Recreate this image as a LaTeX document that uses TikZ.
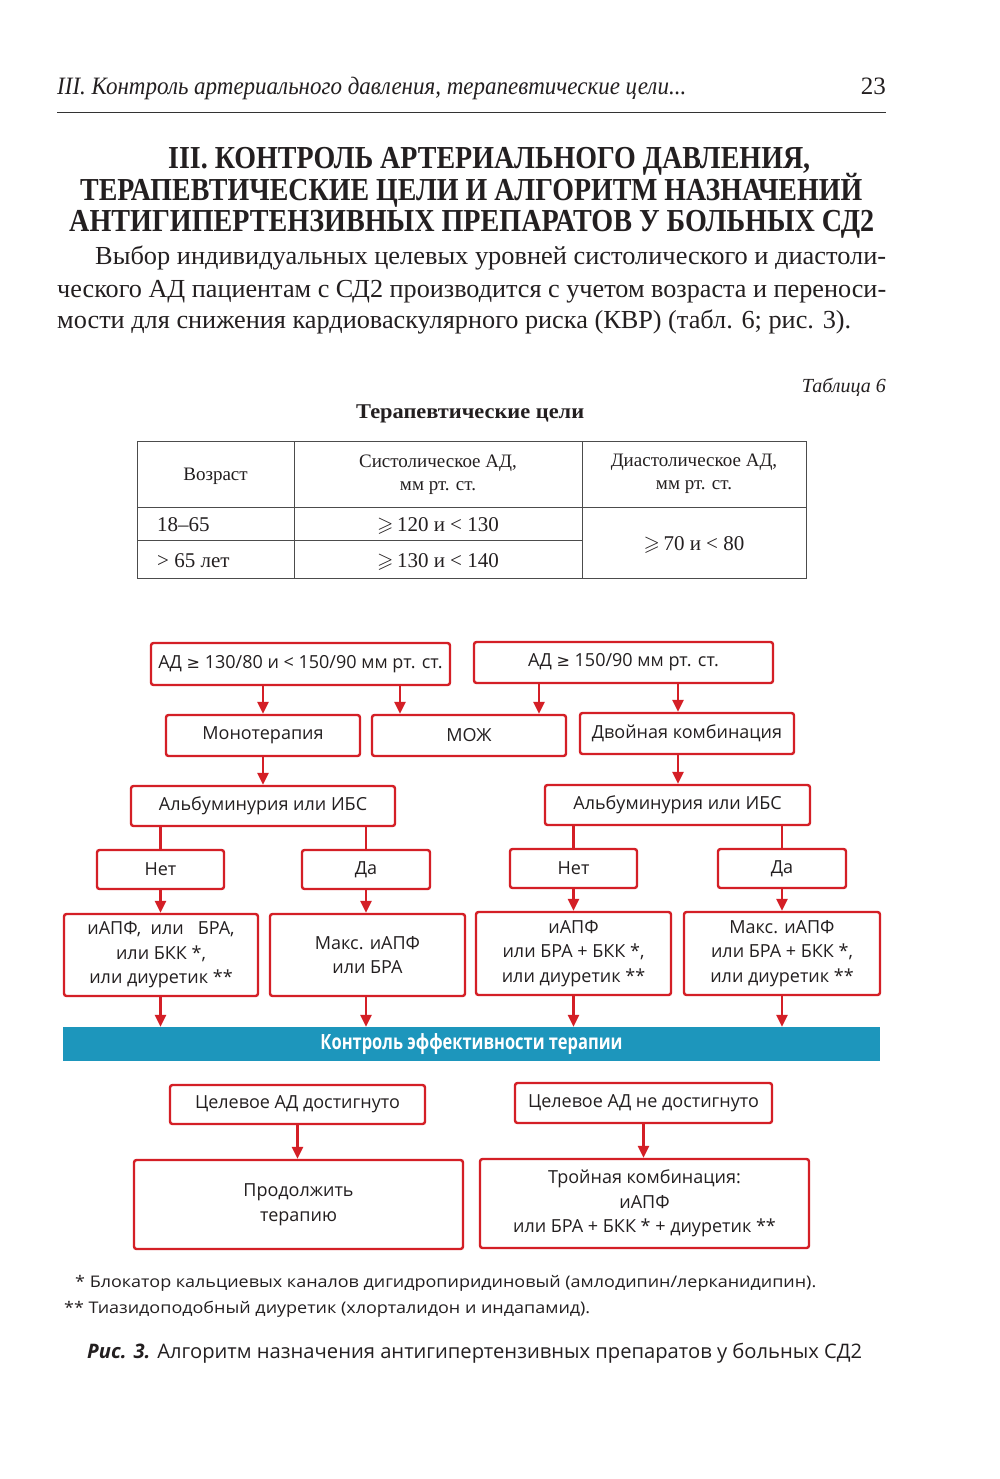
\documentclass[tikz,border=0pt]{standalone}
\usepackage{amssymb}
\usepackage{graphicx}
\usepackage{fontspec}
\setmainfont{Liberation Serif}
\newfontfamily\osans{Open Sans}
\newfontfamily\dvs{DejaVu Sans}
\usetikzlibrary{arrows.meta}
\definecolor{myred}{RGB}{212,31,38}
\definecolor{mybar}{RGB}{29,150,188}
\definecolor{ink}{RGB}{35,31,32}
\newcommand\fsz[2]{\fontsize{#1pt}{#2pt}\selectfont}
\newcommand\fitw[2]{\resizebox{#1pt}{\height}{#2}}
\tikzset{
  txt/.style={inner sep=0pt, text=ink},
  fbox/.style={draw=myred, line width=2.4pt, rounded corners=2.5pt, inner sep=0pt,
    align=center, text=ink, font=\osans\fsz{18}{24.5}},
  arr/.style={draw=myred, line width=2.4pt, -{Triangle[length=12pt,width=11pt]}},
  pln/.style={draw=myred, line width=2.4pt},
  tline/.style={draw=black!70, line width=0.9pt},
}
\begin{document}
\begin{tikzpicture}[x=1pt,y=-1pt]
\useasboundingbox (0,0) rectangle (1000,1479);
\fill[white] (0,0) rectangle (1000,1479);

% running header
\node[txt, anchor=base west] (hdr) at (57,95) {\fsz{25}{30}\itshape\fitw{629}{III. Контроль артериального давления, терапевтические цели...}};
\node[txt, anchor=base east] (pg) at (886,95) {\fsz{25}{30}23};
\draw[black!80, line width=1pt] (57,113) -- (886,113);

% title
\node[txt, anchor=base west] (t1) at (168,169) {\fsz{32}{36}\bfseries\fitw{642}{III. КОНТРОЛЬ АРТЕРИАЛЬНОГО ДАВЛЕНИЯ,}};
\node[txt, anchor=base west] (t2) at (80,201) {\fsz{32}{36}\bfseries\fitw{782}{ТЕРАПЕВТИЧЕСКИЕ ЦЕЛИ И АЛГОРИТМ НАЗНАЧЕНИЙ}};
\node[txt, anchor=base west] (t3) at (69,232) {\fsz{32}{36}\bfseries\fitw{805}{АНТИГИПЕРТЕНЗИВНЫХ ПРЕПАРАТОВ У БОЛЬНЫХ СД2}};

% body
\node[txt, anchor=base west] (b1) at (95,265) {\fsz{26}{32}\fitw{791}{Выбор индивидуальных целевых уровней систолического и диастоли-}};
\node[txt, anchor=base west] (b2) at (57,297) {\fsz{26}{32}\fitw{829}{ческого АД пациентам с СД2 производится с учетом возраста и переноси-}};
\node[txt, anchor=base west] (b3) at (57,328) {\fsz{26}{32}\fitw{794}{мости для снижения кардиоваскулярного риска (КВР) (табл. 6; рис. 3).}};

% table
\node[txt, anchor=base east] (tab) at (886,392) {\fsz{20}{24}\itshape Таблица 6};
\node[txt, anchor=base west] (tcap) at (356,418) {\fsz{21}{25}\bfseries\fitw{228}{Терапевтические цели}};
\draw[tline] (137,441) rectangle (806,578);
\draw[tline] (294,441) -- (294,578);
\draw[tline] (582,441) -- (582,578);
\draw[tline] (137,507) -- (806,507);
\draw[tline] (137,540) -- (582,540);
\node[txt, font=\fsz{19}{23}] (h1) at (215.5,476) {Возраст};
\node[txt, align=center, font=\fsz{19}{23}] (h2) at (438,475) {Систолическое АД,\\мм рт. ст.};
\node[txt, align=center, font=\fsz{19}{23}] (h3) at (694,474) {Диастолическое АД,\\мм рт. ст.};
\node[txt, anchor=base west] (r1) at (157,531) {\fsz{21}{25}18–65};
\node[txt, anchor=base west] (r2) at (157,567) {\fsz{21}{25}> 65 лет};
\node[txt, anchor=base] (s1) at (438,531) {\fsz{21}{25}$\geqslant$\,120 и < 130};
\node[txt, anchor=base] (s2) at (438,567) {\fsz{21}{25}$\geqslant$\,130 и < 140};
\node[txt, anchor=base] (dd) at (694,550) {\fsz{21}{25}$\geqslant$\,70 и < 80};

% flowchart
\node[fbox, minimum width=299pt, minimum height=42pt] (B1) at (300.5,664) {АД {\dvs\fsz{16}{20}≥} 130/80 и < 150/90 мм рт. ст.};
\node[fbox, minimum width=299pt, minimum height=41pt] (B2) at (623.5,662.5) {АД {\dvs\fsz{16}{20}≥} 150/90 мм рт. ст.};
\node[fbox, minimum width=194pt, minimum height=41pt] (MO) at (263,735.5) {Монотерапия};
\node[fbox, minimum width=194pt, minimum height=41pt] (MZ) at (469,735.5) {МОЖ};
\node[fbox, minimum width=214pt, minimum height=41pt] (DK) at (687,733.5) {Двойная комбинация};
\node[fbox, minimum width=264pt, minimum height=40pt] (AL) at (263,806) {Альбуминурия или ИБС};
\node[fbox, minimum width=265pt, minimum height=40pt] (AR) at (677.5,805) {Альбуминурия или ИБС};
\node[fbox, minimum width=127pt, minimum height=39pt] (NL) at (160.5,869.5) {Нет};
\node[fbox, minimum width=128pt, minimum height=39pt] (YL) at (366,869.5) {Да};
\node[fbox, minimum width=127pt, minimum height=39pt] (NR) at (573.5,868.5) {Нет};
\node[fbox, minimum width=128pt, minimum height=39pt] (YR) at (782,868.5) {Да};
\node[fbox, minimum width=194pt, minimum height=82pt] (D1) at (161,955) {иАПФ,\ \ или\ \ \ БРА,\\или БКК *,\\или диуретик **};
\node[fbox, minimum width=195pt, minimum height=82pt] (D2) at (367.5,955) {Макс. иАПФ\\или БРА};
\node[fbox, minimum width=195pt, minimum height=83pt] (D3) at (573.5,953.5) {иАПФ\\или БРА + БКК *,\\или диуретик **};
\node[fbox, minimum width=196pt, minimum height=83pt] (D4) at (782,953.5) {Макс. иАПФ\\или БРА + БКК *,\\или диуретик **};
\node[fill=mybar, minimum width=817pt, minimum height=34pt, inner sep=0pt, text=white] (BAR) at (471.5,1044) {\osans\bfseries\fsz{21}{24}\fitw{302}{Контроль эффективности терапии}};
\node[fbox, minimum width=255pt, minimum height=39pt] (GY) at (297.5,1104.5) {Целевое АД достигнуто};
\node[fbox, minimum width=257pt, minimum height=40pt] (GN) at (643.5,1103) {Целевое АД не достигнуто};
\node[fbox, minimum width=329pt, minimum height=89pt] (CT) at (298.5,1204.5) {Продолжить\\терапию};
\node[fbox, minimum width=329pt, minimum height=89pt] (TR) at (644.5,1203.5) {Тройная комбинация:\\иАПФ\\или БРА + БКК * + диуретик **};

\coordinate (xa) at (400,0);
\coordinate (xb) at (539,0);
\coordinate (xc) at (678,0);
\draw[arr] (B1.south -| MO.north) -- (MO.north);
\draw[arr] (B1.south -| xa) -- (MZ.north -| xa);
\draw[arr] (B2.south -| xb) -- (MZ.north -| xb);
\draw[arr] (B2.south -| xc) -- (DK.north -| xc);
\draw[arr] (MO.south) -- (AL.north -| MO.south);
\draw[arr] (DK.south -| xc) -- (AR.north -| xc);
\draw[pln] (AL.south -| NL.north) -- (NL.north);
\draw[pln] (AL.south -| YL.north) -- (YL.north);
\draw[pln] (AR.south -| NR.north) -- (NR.north);
\draw[pln] (AR.south -| YR.north) -- (YR.north);
\draw[arr] (NL.south) -- (D1.north -| NL.south);
\draw[arr] (YL.south) -- (D2.north -| YL.south);
\draw[arr] (NR.south) -- (D3.north -| NR.south);
\draw[arr] (YR.south) -- (D4.north -| YR.south);
\draw[arr] (D1.south -| NL.south) -- (BAR.north -| NL.south);
\draw[arr] (D2.south -| YL.south) -- (BAR.north -| YL.south);
\draw[arr] (D3.south -| NR.south) -- (BAR.north -| NR.south);
\draw[arr] (D4.south -| YR.south) -- (BAR.north -| YR.south);
\draw[arr] (GY.south) -- (CT.north -| GY.south);
\draw[arr] (GN.south) -- (TR.north -| GN.south);

% footnotes and caption
\node[txt, anchor=base west] (f1) at (75,1287) {\osans\fsz{16}{20}\fitw{741}{* Блокатор кальциевых каналов дигидропиридиновый (амлодипин/лерканидипин).}};
\node[txt, anchor=base west] (f2) at (64,1313) {\osans\fsz{16}{20}\fitw{526}{** Тиазидоподобный диуретик (хлорталидон и индапамид).}};
\node[txt, anchor=base west] (cap) at (87,1358) {\osans\fsz{20}{24}\fitw{775}{{\bfseries\itshape Рис. 3.} Алгоритм назначения антигипертензивных препаратов у больных СД2}};
\end{tikzpicture}
\end{document}
